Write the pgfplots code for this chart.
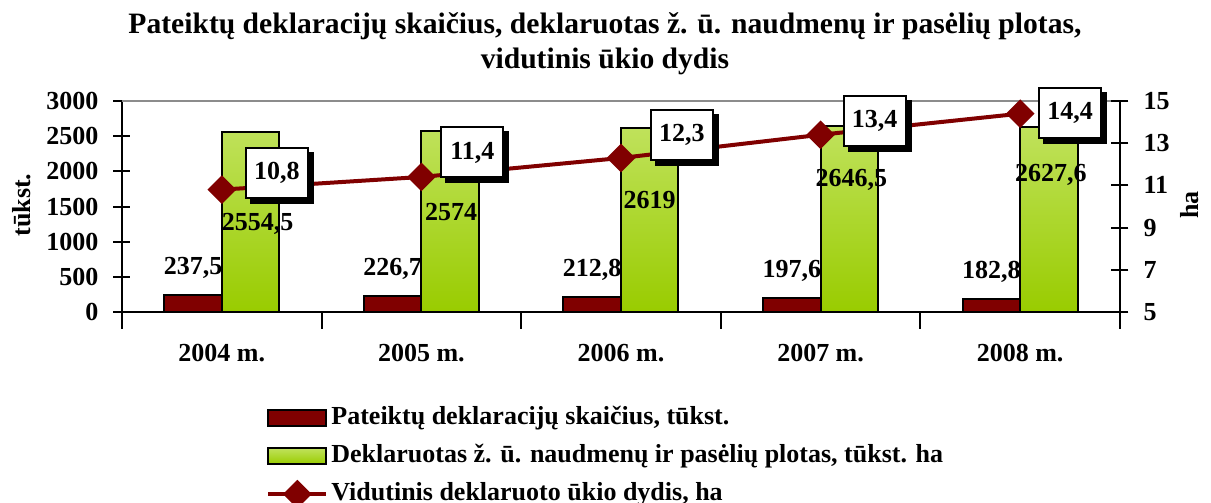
\documentclass[border=0pt]{standalone}
\usepackage{pgfplots}
\usepackage{pgfplotstable}
\pgfplotsset{compat=1.18}
\usepackage{fontspec}
\setmainfont{Liberation Serif}
\usetikzlibrary{shadows}
\definecolor{dred}{RGB}{128,0,0}
\definecolor{gtop}{RGB}{192,226,92}
\definecolor{gbot}{RGB}{153,204,0}
\definecolor{frame}{RGB}{140,140,140}
\newcommand{\f}{\fontsize{13}{15.6}\selectfont\bfseries}

\pgfplotstableread{
x y dx dy
0 237.5 0 13.75
1 226.7 0 13.75
2 212.8 0 13.75
3 197.6 0 13.75
4 182.8 0 13.75
}\decl
\pgfplotstableread{
x y dx dy
0 2554.5 3.5 -46
1 2574 0.5 -40.5
2 2619 0 -36
3 2646.5 1 -27
4 2627.6 1 -24
}\area
\pgfplotstableread{
x y dx dy
0 10.8 27.5 8.5
1 11.4 25.5 12.25
2 12.3 30.5 11.5
3 13.4 27 6.75
4 14.4 25 0.5
}\avg

\pgfplotsset{
  common/.style={
    at={(0,0)}, anchor=south west,
    scale only axis, width=499pt, height=105.5pt,
    xmin=-0.5, xmax=4.5,
    axis line style={line width=1pt},
    tick align=center,
    major tick length=8.5pt, minor tick length=8.5pt,
    tick style={line width=1pt, black},
    /pgf/number format/assume math mode=true,
    /pgf/number format/use comma,
    /pgf/number format/1000 sep={},
    tick label style={font=\f},
    yticklabel shift=4pt,
    clip=false,
  },
  lineleg/.style={legend image code/.code={\draw[mark repeat=2, mark phase=2, ##1] plot coordinates {(0pt,0pt) (14.5pt,0pt) (29pt,0pt)};}},
  redleg/.style={legend image code/.code={\draw[fill=dred, draw=black, line width=1pt] (0pt,-4pt) rectangle (29pt,4pt);}},
  greenleg/.style={legend image code/.code={\draw[top color=gtop, bottom color=gbot, draw=black, line width=1pt] (0pt,-4pt) rectangle (29pt,4pt);}},
}

\begin{document}
\begin{tikzpicture}
\begin{axis}[
  common,
  ymin=0, ymax=3000,
  axis x line*=bottom, axis y line*=left,
  ytick={0,500,...,3000},
  scaled y ticks=false,
  xtick={0,1,2,3,4},
  xticklabels={2004 m.,2005 m.,2006 m.,2007 m.,2008 m.},
  minor xtick={-0.5,0.5,1.5,2.5,3.5,4.5},
  major x tick style={draw=none},
  xticklabel shift=4pt,
  ylabel={tūkst.},
  every axis y label/.style={at={(axis description cs:-0.1002,0.507)}, anchor=center, rotate=90, font=\f},
  ybar=0pt, bar width=28.75pt,
]
\draw[frame, line width=1pt] (rel axis cs:0,1) -- (rel axis cs:1,1);
\addplot[fill=dred, draw=black, line width=1pt,
  visualization depends on={\thisrow{dy} \as \dy},
  nodes near coords,
  every node near coord/.append style={font=\f, anchor=center, yshift=\dy pt, text=black}]
  table[x=x, y=y] {\decl};
\addplot[top color=gtop, bottom color=gbot, draw=black, line width=1pt,
  visualization depends on={\thisrow{dx} \as \dx},
  visualization depends on={\thisrow{dy} \as \dy},
  nodes near coords,
  every node near coord/.append style={font=\f, anchor=center, xshift=\dx pt, yshift=\dy pt, text=black}]
  table[x=x, y=y] {\area};
\end{axis}

\begin{axis}[
  common,
  ymin=5, ymax=15,
  axis x line=none, axis y line*=right,
  ytick={5,7,9,11,13,15},
  ylabel={ha},
  every axis y label/.style={at={(axis description cs:1.0701,0.507)}, anchor=center, rotate=90, font=\f},
  legend style={at={(axis description cs:0.1443,-0.43)}, anchor=north west, draw=none, fill=none,
    font=\f, inner sep=0pt, row sep=4pt,
    nodes={inner sep=1.5pt, text height=9pt, text depth=3pt}},
  legend cell align=left,
]
\addlegendimage{redleg}
\addlegendentry{Pateiktų deklaracijų skaičius, tūkst.}
\addlegendimage{greenleg}
\addlegendentry{Deklaruotas ž. ū. naudmenų ir pasėlių plotas, tūkst. ha}
\addplot[dred, line width=2pt, mark=square*, mark size=4.07pt, mark options={rotate=45, solid},
  lineleg,
  visualization depends on={\thisrow{dx} \as \dx},
  visualization depends on={\thisrow{dy} \as \dy},
  nodes near coords,
  every node near coord/.append style={font=\f, anchor=center, xshift=\dx pt, yshift=\dy pt,
    text=black, draw=black, line width=1pt, fill=white, minimum width=31pt, minimum height=25pt,
    drop shadow={shadow xshift=2.5pt, shadow yshift=-2.5pt, fill=black, opacity=1}}]
  table[x=x, y=y] {\avg};
\addlegendentry{Vidutinis deklaruoto ūkio dydis, ha}
\end{axis}

\node[font=\fontsize{14.8}{17.5}\selectfont\bfseries, align=center] at (241.5pt,134pt)
  {Pateiktų deklaracijų skaičius, deklaruotas ž. ū. naudmenų ir pasėlių plotas,\\ vidutinis ūkio dydis};

\pgfresetboundingbox
\path (-61pt,-95.5pt) rectangle (544.5pt,156pt);
\end{tikzpicture}
\end{document}
